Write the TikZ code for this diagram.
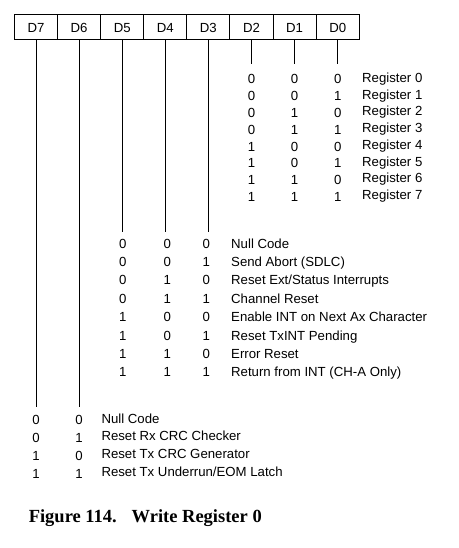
\documentclass[tikz,border=0pt]{standalone}
\usepackage{fontspec}
\setmainfont{Liberation Sans}
\newfontfamily\captionfont{Liberation Serif}
\usetikzlibrary{positioning,calc}

\begin{document}
\begin{tikzpicture}[x=1pt,y=-1pt,node distance=0pt,line width=1pt,
    bitcell/.style={draw,minimum width=43.1pt,minimum height=25pt,inner sep=0pt,outer sep=0pt,text height=9.4pt,text depth=0pt,font=\fontsize{13.2}{15}\selectfont},
    bitval/.style={inner sep=0pt,anchor=base,font=\fontsize{13.2}{15}\selectfont},
    bitdesc/.style={inner sep=0pt,anchor=base west,font=\fontsize{13.2}{15}\selectfont}]
      \useasboundingbox (0,0) rectangle (458,548);

      % register bits
      \node [bitcell] (d7) at (36,27.5) {D7};
      \foreach \b/\p in {6/7,5/6,4/5,3/4,2/3,1/2,0/1} {
        \node [bitcell] (d\b) [right=of d\p] {D\b};
      }

      % bit lines
      \foreach \b/\e in {2/64,1/64,0/64,5/232.3,4/232.3,3/232.3,7/406.7,6/406.7} {
        \coordinate (d\b-end) at (d\b.south |- 0,\e);
        \draw (d\b.south) -- (d\b-end);
      }

      % D2 D1 D0: register select
      \foreach \u/\v/\w/\t [count=\i from 0] in {0/0/0/Register 0,0/0/1/Register 1,0/1/0/Register 2,0/1/1/Register 3,
          1/0/0/Register 4,1/0/1/Register 5,1/1/0/Register 6,1/1/1/Register 7} {
        \coordinate (reg-\i) at (0,84+16.77*\i);
        \node [bitval] (reg-\i-d2) at (d2.south |- reg-\i) {\u};
        \node [bitval] (reg-\i-d1) at (d1.south |- reg-\i) {\v};
        \node [bitval] (reg-\i-d0) at (d0.south |- reg-\i) {\w};
        \node [bitdesc] (reg-\i-text) at (361.7,82.3+16.77*\i) {\t};
      }

      % D5 D4 D3: commands
      \foreach \u/\v/\w/\t [count=\i from 0] in {0/0/0/Null Code,0/0/1/Send Abort (SDLC),0/1/0/Reset Ext{/}Status Interrupts,
          0/1/1/Channel Reset,1/0/0/Enable INT on Next Ax Character,1/0/1/Reset TxINT Pending,1/1/0/Error Reset,
          1/1/1/Return from INT (CH-A Only)} {
        \coordinate (cmd-\i) at (0,248+18.4*\i);
        \node [bitval] (cmd-\i-d5) at ([xshift=0.7pt]d5.south |- cmd-\i) {\u};
        \node [bitval] (cmd-\i-d4) at ([xshift=2pt]d4.south |- cmd-\i) {\v};
        \node [bitval] (cmd-\i-d3) at ([xshift=-2pt]d3.south |- cmd-\i) {\w};
        \node [bitdesc] (cmd-\i-text) at (230.7,248+18.4*\i) {\t};
      }

      % D7 D6: CRC reset codes
      \foreach \u/\v/\t [count=\i from 0] in {0/0/Null Code,0/1/Reset Rx CRC Checker,1/0/Reset Tx CRC Generator,
          1/1/Reset Tx Underrun{/}EOM Latch} {
        \coordinate (crc-\i) at (0,424.7+17.8*\i);
        \node [bitval] (crc-\i-d7) at (d7.south |- crc-\i) {\u};
        \node [bitval] (crc-\i-d6) at (d6.south |- crc-\i) {\v};
        \node [bitdesc] (crc-\i-text) at (101,423+17.8*\i) {\t};
      }

      \node [inner sep=0pt,anchor=base west,font=\captionfont\bfseries\fontsize{18.5}{21}\selectfont] (caption) at (28.3,522.7) {Figure 114.\hspace{0.8em}Write Register 0};
\end{tikzpicture}
\end{document}
